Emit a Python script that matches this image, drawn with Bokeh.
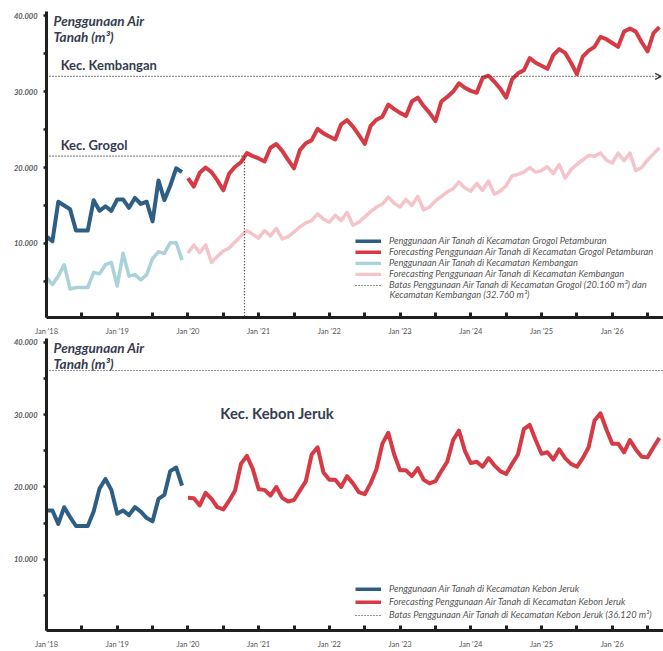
import pandas as pd
from bokeh.plotting import figure
from bokeh.models import Range1d, FixedTicker, Label, Legend, LegendItem, Arrow, OpenHead
from bokeh.layouts import column
from bokeh.embed import file_html
from bokeh.resources import INLINE

# ---------------- data ----------------
hist_months = pd.date_range("2018-01-01", "2019-12-01", freq="MS")
fc_months = pd.date_range("2020-01-01", "2026-09-01", freq="MS")

grogol_hist = [10900, 10300, 15500, 15000, 14500, 11700, 11700, 11700, 15700, 14300, 14900, 14300,
               15800, 15800, 14700, 16000, 15200, 15500, 12900, 18300, 15700, 17600, 19900, 19400]
kembangan_hist = [5500, 4600, 5700, 7200, 4000, 4200, 4200, 4200, 6200, 6000, 7200, 7500,
                  4400, 8700, 5700, 5900, 5200, 5900, 8000, 8900, 8700, 10100, 10100, 7800]
grogol_fc = [18600, 17500, 19300, 20000, 19400, 18300, 17000, 19200, 20100, 20700, 21900, 21500,
             21200, 20800, 22600, 23100, 22200, 21000, 19900, 22300, 23200, 23600, 25100, 24500,
             24100, 23700, 25700, 26250, 25400, 24300, 23100, 25500, 26300, 26700, 28300, 27700,
             27200, 26800, 28700, 29200, 28100, 27200, 26100, 28700, 29300, 30000, 31100, 30500,
             30100, 29850, 31800, 32100, 31300, 30400, 29200, 31600, 32400, 32800, 34400, 33800,
             33400, 33000, 34800, 35600, 35100, 33800, 32300, 34600, 35400, 35900, 37200, 36900,
             36400, 35900, 37900, 38300, 37900, 36500, 35300, 37700, 38500]
kembangan_fc = [8700, 9800, 8800, 9800, 7500, 8300, 9000, 9400, 10200, 11000, 11700, 11200,
                10700, 11700, 11000, 12000, 10600, 10900, 11500, 12200, 12700, 13000, 13900, 13200,
                12800, 13700, 13000, 14100, 12400, 12800, 13500, 14200, 14800, 15200, 16100, 15300,
                14800, 15800, 15000, 16200, 14400, 14800, 15600, 16200, 16800, 17200, 18100, 17300,
                16900, 17900, 17000, 18200, 16500, 16900, 17600, 18900, 19100, 19400, 20000, 19400,
                19600, 20100, 19200, 20400, 18600, 19700, 20400, 21000, 21600, 21500, 21900, 21000,
                20600, 21900, 20900, 21900, 19600, 20000, 21000, 21800, 22600]
kebon_hist = [16750, 16750, 14900, 17200, 15850, 14600, 14600, 14600, 16600, 19800, 21100, 19600,
              16300, 16750, 16100, 17200, 16600, 15700, 15250, 18350, 18900, 22200, 22700, 20200]
kebon_fc = [18500, 18450, 17450, 19200, 18350, 17200, 16900, 18100, 19500, 23200, 24300, 22500,
            19700, 19600, 18800, 20000, 18500, 18000, 18200, 19500, 20800, 24500, 25500, 22000,
            21000, 21000, 20000, 21500, 20500, 19300, 19000, 20500, 22500, 26000, 27500, 24500,
            22300, 22300, 21500, 22600, 21000, 20500, 20800, 22200, 23500, 26500, 27800, 25000,
            23300, 23500, 22800, 24000, 23000, 22200, 21800, 23200, 24500, 28000, 28600, 26500,
            24600, 24800, 23800, 25200, 24000, 23200, 22800, 24000, 25500, 29200, 30200, 28000,
            26000, 26000, 24800, 26500, 25200, 24200, 24100, 25500, 26800]

GROGOL_LINE = 21500        # dotted limit line as drawn
KEMBANGAN_LINE = 32000
KEBON_LINE = 36120
GROGOL_CROSS = pd.Timestamp("2020-10-19")   # where forecast reaches the limit

year_ticks = [f"Jan '{y}" for y in range(18, 27)]
y_tick_labels = ["10.000", "20.000", "30.000", "40.000"]

# ---------------- helpers ----------------
def mindex(ts):
    return (ts.year - 2018) * 12 + (ts.month - 1) + (ts.day - 1) / 30.4

xh = [mindex(d) for d in hist_months]
xf = [mindex(d) for d in fc_months]
X_END = 104.7

DARK_BLUE = "#2f5e85"
RED = "#d63a45"
LIGHT_BLUE = "#a9d2d9"
PINK = "#f4c4ca"
TXT = "#353c4f"
AX = "#1f1f1f"
DOT = "#2a2a2a"

x_ticks = list(range(0, 103, 6))
x_over = {t: (year_ticks[t // 12] if t % 12 == 0 else "") for t in x_ticks}
y_ticks = list(range(0, 40001, 5000))
y_over = {t: "" for t in y_ticks}
for i, lab in enumerate(y_tick_labels):
    y_over[(i + 1) * 10000] = lab


def make_fig(height, border_top, border_bottom, yr):
    p = figure(width=663, height=height, output_backend="svg", toolbar_location=None,
               x_range=Range1d(0, X_END), y_range=Range1d(*yr),
               min_border_left=46, min_border_right=0, min_border_top=border_top,
               min_border_bottom=border_bottom)
    p.outline_line_color = None
    p.grid.visible = False
    p.background_fill_color = "white"
    p.border_fill_color = "white"
    xa = p.xaxis[0]
    xa.ticker = FixedTicker(ticks=x_ticks)
    xa.major_label_overrides = x_over
    xa.axis_line_width = 3
    xa.axis_line_color = AX
    xa.major_tick_in = 5
    xa.major_tick_out = 0
    xa.major_tick_line_width = 3
    xa.major_tick_line_color = AX
    xa.minor_tick_line_color = None
    xa.major_label_text_font = "Lato"
    xa.major_label_text_font_size = "7.5px"
    xa.major_label_text_color = "#555555"
    xa.major_label_standoff = 9
    ya = p.yaxis[0]
    ya.ticker = FixedTicker(ticks=y_ticks)
    ya.major_label_overrides = y_over
    ya.axis_line_width = 3
    ya.axis_line_color = AX
    ya.major_tick_in = 0
    ya.major_tick_out = 3
    ya.major_tick_line_width = 2.5
    ya.major_tick_line_color = AX
    ya.minor_tick_line_color = None
    ya.major_label_text_font = "Lato"
    ya.major_label_text_font_style = "bold italic"
    ya.major_label_text_font_size = "7.5px"
    ya.major_label_text_color = "#555555"
    ya.major_label_standoff = 6
    return p


def title(p, y1, y2):
    for txt, yy in (("Penggunaan Air", y1), ("Tanah (m³)", y2)):
        p.add_layout(Label(x=1.2, y=yy, text=txt, text_font="Lato", text_font_style="bold italic",
                           text_font_size="13.5px", text_color=TXT, text_baseline="alphabetic"))


LEG = dict(glyph_width=26, glyph_height=4, label_height=8, label_standoff=8, padding=0, margin=0,
           label_text_font="Lato", label_text_font_style="italic", label_text_font_size="9.3px",
           label_text_color="#555555", background_fill_alpha=0, border_line_color=None)

# ---------------- top panel ----------------
p1 = make_fig(338, 11, 18, (250, 40550))
r_kh = p1.line(xh, kembangan_hist, line_width=3.5, color=LIGHT_BLUE, line_join="round")
r_kf = p1.line(xf, kembangan_fc, line_width=3.5, color=PINK, line_join="round")
r_gh = p1.line(xh, grogol_hist, line_width=4, color=DARK_BLUE, line_join="round")
r_gf = p1.line(xf, grogol_fc, line_width=4, color=RED, line_join="round")
xc = mindex(GROGOL_CROSS)
r_lim = p1.line([0, xc, xc], [GROGOL_LINE, GROGOL_LINE, 0], line_width=1.2, line_dash="1 2",
                color=DOT)
p1.add_layout(Arrow(x_start=0, y_start=KEMBANGAN_LINE, x_end=X_END - 0.4, y_end=KEMBANGAN_LINE,
                    line_width=1.2, line_dash="1 2", line_color=DOT,
                    end=OpenHead(size=6, line_width=1.3, line_color="#333333")))
title(p1, 39280, 37190)
p1.add_layout(Label(x=2.4, y=KEMBANGAN_LINE, y_offset=3, text="Kec. Kembangan", text_font="Lato",
                    text_font_style="bold", text_font_size="13px", text_color=TXT))
p1.add_layout(Label(x=2.4, y=GROGOL_LINE, y_offset=3, text="Kec. Grogol", text_font="Lato",
                    text_font_style="bold", text_font_size="13px", text_color=TXT))

leg1 = Legend(items=[
    LegendItem(label="Penggunaan Air Tanah di Kecamatan Grogol Petamburan", renderers=[r_gh]),
    LegendItem(label="Forecasting Penggunaan Air Tanah di Kecamatan Grogol Petamburan", renderers=[r_gf]),
    LegendItem(label="Penggunaan Air Tanah di Kecamatan Kembangan", renderers=[r_kh]),
    LegendItem(label="Forecasting Penggunaan Air Tanah di Kecamatan Kembangan", renderers=[r_kf]),
    LegendItem(label="Batas Penggunaan Air Tanah di Kecamatan Grogol (20.160 m³) dan", renderers=[r_lim]),
], location=(309, 27), spacing=-1, **LEG)
p1.add_layout(leg1)
p1.add_layout(Label(x=343, y=23, x_units="screen", y_units="screen",
                    text="Kecamatan Kembangan (32.760 m³)", text_font="Lato", text_font_style="italic",
                    text_font_size="9.3px", text_color="#555555", text_baseline="middle"))

# ---------------- bottom panel ----------------
p2 = make_fig(313, 0, 18, (140, 40550))
r_bh = p2.line(xh, kebon_hist, line_width=4, color=DARK_BLUE, line_join="round")
r_bf = p2.line(xf, kebon_fc, line_width=4, color=RED, line_join="round")
r_blim = p2.line([0, X_END], [KEBON_LINE, KEBON_LINE], line_width=1.2, line_dash="1 2", color=DOT)
title(p2, 39270, 37080)
p2.add_layout(Label(x=29.5, y=30270, text="Kec. Kebon Jeruk", text_font="Lato",
                    text_font_style="bold", text_font_size="14.8px", text_color=TXT,
                    text_baseline="middle"))
leg2 = Legend(items=[
    LegendItem(label="Penggunaan Air Tanah di Kecamatan Kebon Jeruk", renderers=[r_bh]),
    LegendItem(label="Forecasting Penggunaan Air Tanah di Kecamatan Kebon Jeruk", renderers=[r_bf]),
    LegendItem(label="Batas Penggunaan Air Tanah di Kecamatan Kebon Jeruk (36.120 m³)", renderers=[r_blim]),
], location=(309, 10), spacing=2, **LEG)
p2.add_layout(leg2)

layout = column(p1, p2, spacing=0)
open("out.html", "w").write(file_html(layout, INLINE))
